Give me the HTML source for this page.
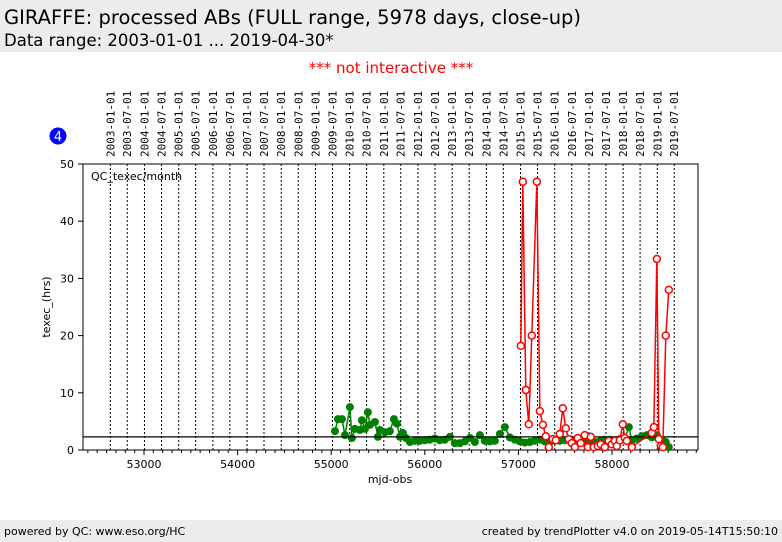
<!DOCTYPE html>
<html><head><meta charset="utf-8"><style>
body{margin:0;width:782px;height:542px;background:#fff;font-family:"DejaVu Sans","Liberation Sans",sans-serif;overflow:hidden;position:relative}
.hdr{position:absolute;left:0;top:0;width:782px;height:52px;background:#ececec}
.t1{position:absolute;left:4px;top:6px;font-size:19.5px}
.t2{position:absolute;left:4px;top:31px;font-size:16.5px}
.ftr{position:absolute;left:0;top:520px;width:782px;height:22px;background:#ececec;font-size:11px}
</style></head><body>
<div class="hdr">
<div class="t1">GIRAFFE: processed ABs (FULL range, 5978 days, close-up)</div>
<div class="t2">Data range: 2003-01-01 ... 2019-04-30*</div>
</div>
<div class="ftr">
<span style="position:absolute;left:4px;top:5px">powered by QC: www.eso.org/HC</span>
<span style="position:absolute;right:4px;top:5px">created by trendPlotter v4.0 on 2019-05-14T15:50:10</span>
</div>
<svg id="c" width="782" height="542" style="position:absolute;left:0;top:0"></svg>
<script>
const greenX=[55040,55072,55115,55147,55200,55221,55253,55307,55328,55360,55392,55414,55467,55499,55521,55574,55627,55670,55702,55734,55766,55798,55841,55894,55948,56001,56054,56108,56161,56214,56268,56321,56375,56428,56481,56535,56588,56641,56695,56748,56802,56855,56909,56962,57015,57068,57122,57175,57229,57282,57335,57389,57442,57496,57549,57602,57656,57709,57762,57816,57869,57923,57976,58030,58083,58137,58180,58212,58265,58319,58372,58425,58479,58532,58575,58607];
const greenY=[3.3,5.4,5.4,2.6,7.5,2.1,3.7,3.5,5.2,3.7,6.6,4.4,4.9,2.3,3.5,3.1,3.3,5.4,4.6,2.3,3.0,2.1,1.4,1.6,1.6,1.7,1.8,2.0,1.7,1.8,2.3,1.2,1.2,1.5,2.1,1.4,2.6,1.6,1.5,1.6,2.8,4.0,2.2,1.8,1.5,1.3,1.4,1.6,1.8,1.5,1.4,1.6,1.6,1.7,1.9,1.5,1.4,1.4,1.3,1.4,1.5,1.8,1.8,1.7,1.9,2.0,4.0,1.6,2.0,2.4,2.6,2.2,2.6,1.8,1.4,0.5];
const redX=[57026,57047,57079,57111,57143,57197,57229,57261,57293,57325,57367,57399,57442,57474,57506,57538,57570,57602,57634,57666,57709,57741,57773,57805,57848,57880,57923,57965,57998,58030,58051,58083,58115,58137,58158,58212,58425,58447,58479,58500,58522,58543,58575,58607];
const redY=[18.2,46.9,10.5,4.5,20,46.9,6.8,4.4,2.4,0.5,1.9,1.7,2.8,7.3,3.8,1.9,1.2,0.5,2.1,1.2,2.6,0.5,2.3,0.5,0.7,1.0,0.5,1.6,1.0,1.6,0.7,1.7,4.5,2.1,1.6,0.5,3.0,4.0,33.4,1.9,0.7,0.5,20,28];
const refLine=2.3;
const xTicks=[53000,54000,55000,56000,57000,58000];
const yTicks=[0,10,20,30,40,50];
const dateLabels=["2003-01-01","2003-07-01","2004-01-01","2004-07-01","2005-01-01","2005-07-01","2006-01-01","2006-07-01","2007-01-01","2007-07-01","2008-01-01","2008-07-01","2009-01-01","2009-07-01","2010-01-01","2010-07-01","2011-01-01","2011-07-01","2012-01-01","2012-07-01","2013-01-01","2013-07-01","2014-01-01","2014-07-01","2015-01-01","2015-07-01","2016-01-01","2016-07-01","2017-01-01","2017-07-01","2018-01-01","2018-07-01","2019-01-01","2019-07-01"];

const L=83,R=698,T=164,B=450;
const sx=v=>144+(v-53000)*0.0936;
const sy=v=>B-(v/50)*(B-T);
const svg=document.getElementById('c');
const NS='http://www.w3.org/2000/svg';
function mk(tag,at,parent){const e=document.createElementNS(NS,tag);for(const k in at)e.setAttribute(k,at[k]);(parent||svg).appendChild(e);return e;}
function mjd(s){const p=s.split('-');return Date.UTC(+p[0],+p[1]-1,+p[2])/86400000+40587;}

let t=mk('text',{x:391,y:73,'text-anchor':'middle','font-size':15,fill:'#f00'});t.textContent='*** not interactive ***';


let b=mk('circle',{cx:58,cy:136,r:8.5,fill:'#00f'});


t=mk('text',{x:58,y:141,'text-anchor':'middle','font-size':13,fill:'#fff'});t.textContent='4';



dateLabels.forEach(d=>{const x=sx(mjd(d));
 const g=mk('line',{x1:x,x2:x,y1:T,y2:B,stroke:'#000','stroke-width':1,'stroke-dasharray':'2,2'});
 
 
 const lt=mk('text',{x:0,y:0,'font-size':11,'font-family':'DejaVu Sans Mono, Liberation Mono, monospace',transform:`translate(${x+4},157) rotate(-90)`});
 lt.textContent=d;
 
 
});
const fr=mk('rect',{x:L,y:T,width:R-L,height:B-T,fill:'none',stroke:'#000','stroke-width':1});


yTicks.forEach(v=>{const y=sy(v);
 mk('line',{x1:L-5,x2:L,y1:y,y2:y,stroke:'#000'});
 const lt=mk('text',{x:L-9,y:y+4,'text-anchor':'end','font-size':11});lt.textContent=v;
 
 
});
for(let v=52400;v<=58900;v+=100){const x=sx(v);if(x<L||x>R)continue;
 const major=v%1000===0;mk('line',{x1:x,x2:x,y1:B,y2:B+(major?5:3),stroke:'#000'});}
xTicks.forEach(v=>{const lt=mk('text',{x:sx(v),y:B+18,'text-anchor':'middle','font-size':11});lt.textContent=v;
 
 });
t=mk('text',{x:390,y:483,'text-anchor':'middle','font-size':11});t.textContent='mjd-obs';


t=mk('text',{x:0,y:0,'text-anchor':'middle','font-size':11,transform:`translate(50,307) rotate(-90)`});t.textContent='texec_(hrs)';


t=mk('text',{x:91,y:180,'font-size':11});t.textContent='QC_texec/month';



const gp=mk('polyline',{points:greenX.map((v,i)=>sx(v)+','+sy(greenY[i])).join(' '),fill:'none',stroke:'#008000','stroke-width':1.5});


greenX.forEach((v,i)=>{const c=mk('circle',{cx:sx(v),cy:sy(greenY[i]),r:4,fill:'#008000'});
 
 });
const rl=mk('line',{x1:L,x2:R,y1:sy(refLine),y2:sy(refLine),stroke:'#000','stroke-width':1.2});


const rp=mk('polyline',{points:redX.map((v,i)=>sx(v)+','+sy(redY[i])).join(' '),fill:'none',stroke:'#f00','stroke-width':1.5});


redX.forEach((v,i)=>{const c=mk('circle',{cx:sx(v),cy:sy(redY[i]),r:3.5,fill:'#fff',stroke:'#f00','stroke-width':1.5});
 
 });
</script>
</body></html>
